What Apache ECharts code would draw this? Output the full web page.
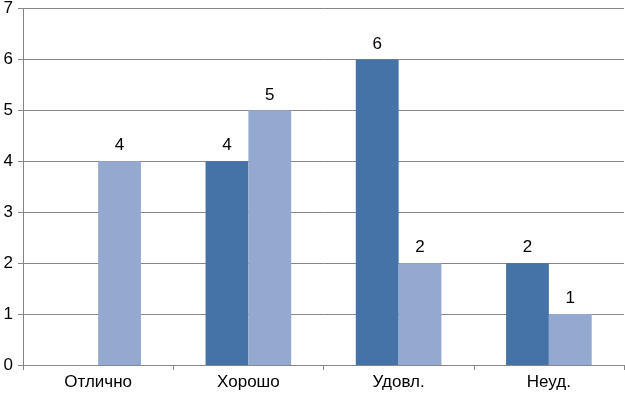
<!DOCTYPE html>
<html><head><meta charset="utf-8">
<script src="https://cdn.jsdelivr.net/npm/echarts@6/dist/echarts.min.js"></script>
<style>html,body{margin:0;padding:0;background:#fff}#c{width:625px;height:394px}</style>
</head><body><div id="c"></div>
<script>
const categories = ["Отлично", "Хорошо", "Удовл.", "Неуд."];
const series1 = [null, 4, 6, 2];
const series2 = [4, 5, 2, 1];
const yTicks = [0, 1, 2, 3, 4, 5, 6, 7];

const chart = echarts.init(document.getElementById('c'), null, {renderer: 'canvas'});
const FONT = 'Liberation Sans, Arial, sans-serif';
const lbl = {show: true, position: 'top', distance: 7, color: '#000', fontFamily: FONT, fontSize: 17};
chart.setOption({
  animation: false,
  grid: {left: 23, right: 1, top: 8, bottom: 29, containLabel: false},
  xAxis: {
    type: 'category', data: categories,
    axisLine: {lineStyle: {color: '#868686', width: 1}},
    axisTick: {show: true, length: 5, lineStyle: {color: '#868686'}},
    axisLabel: {color: '#000', fontFamily: FONT, fontSize: 17, margin: 9}
  },
  yAxis: {
    type: 'value', min: 0, max: 7, interval: 1,
    axisLine: {show: true, lineStyle: {color: '#868686', width: 1}},
    axisTick: {show: true, length: 5, lineStyle: {color: '#868686'}},
    splitLine: {lineStyle: {color: '#868686', width: 1}},
    axisLabel: {color: '#000', fontFamily: FONT, fontSize: 17, margin: 10,
      formatter: v => yTicks.includes(v) ? String(v) : ''}
  },
  series: [
    {type: 'bar', data: series1, barGap: '0%', barCategoryGap: '43%', itemStyle: {color: '#4572A7'}, label: lbl},
    {type: 'bar', data: series2, itemStyle: {color: '#93A9CF'}, label: lbl}
  ]
});
</script></body></html>
